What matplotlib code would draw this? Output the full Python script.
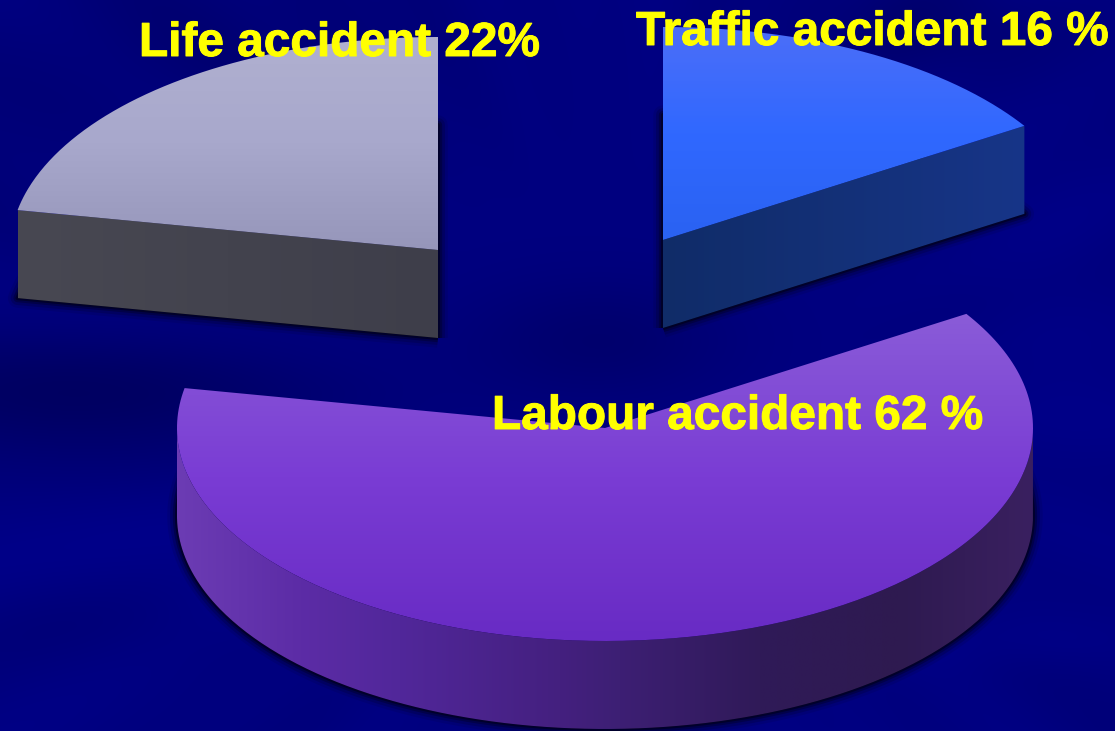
import numpy as np
import matplotlib
matplotlib.use("Agg")
import matplotlib.pyplot as plt
import matplotlib.patheffects as pe
from matplotlib.patches import PathPatch
from matplotlib.path import Path

# ---- data ----
names = ["Traffic accident 16 %", "Labour accident 62 %", "Life accident 22%"]
shares = [16, 62, 22]

# ---- style / layout ----
centers = [(663, 240), (605, 428), (438, 250)]
label_pos = [(636, 45), (492, 429), (139, 56)]
RX, RY, DEPTH = 428, 213, 88
top_cols = [["#4c6ef8", "#3068ff", "#2a62f2"],
            ["#8a5cd8", "#7a3cd4", "#682bc4"],
            ["#b0b0d0", "#a8a8cc", "#9696ba"]]
cut_cols = [["#102c68", "#173588"], None, ["#484852", "#3e3e4a"]]
rim_x = [177, 300, 400, 560, 620, 760, 900, 1032]
rim_cols = ["#6c3cb4", "#5c2ca6", "#51279a", "#44207f", "#3d1f74", "#301a58", "#2e1a50", "#3a2060"]

W, H = 1115, 731
fig = plt.figure(figsize=(W / 100, H / 100), dpi=100)
ax = fig.add_axes([0, 0, 1, 1])
ax.axis("off")


def rgb(c):
    return np.array(matplotlib.colors.to_rgb(c))


def ramp(cols, n=200):
    t = np.linspace(0, 1, n)
    st = np.linspace(0, 1, len(cols))
    arr = np.array([rgb(c) for c in cols])
    return np.stack([np.interp(t, st, arr[:, i]) for i in range(3)], axis=-1)


def ell(c, deg, dy=0):
    r = np.radians(deg)
    return np.column_stack([c[0] + RX * np.cos(r), c[1] - RY * np.sin(r) + dy])


def wedge_poly(c, a0, a1, dy=0):
    return np.vstack([[c[0], c[1] + dy], ell(c, np.linspace(a0, a1, 200), dy), [c[0], c[1] + dy]])


def filled(poly, img, extent, z):
    patch = PathPatch(Path(poly), fc="none", ec="none", transform=ax.transData)
    ax.add_patch(patch)
    im = ax.imshow(img, extent=extent, aspect="auto", interpolation="bilinear", zorder=z)
    im.set_clip_path(patch)


# background: dark blue with soft rays
yy, xx = np.mgrid[0:H, 0:W]
ang = np.arctan2(yy - 400.0, xx - 620.0)
rad = np.hypot(xx - 620.0, yy - 400.0) / 700
blue = 128 + (3 * np.sin(7 * ang + 0.6) + 2.5 * np.sin(17 * ang + 2) + 2 * np.sin(29 * ang)) * np.clip(rad - 0.3, 0, 1) * 2
for gx, gy, sx, sy, amp in [(90, 400, 260, 70, -26), (120, 60, 300, 120, -14), (950, 30, 130, 60, -18),
                            (600, 340, 130, 60, -18), (1000, 640, 160, 30, 8), (60, 620, 200, 50, -6),
                            (1060, 300, 90, 200, 6), (300, 560, 200, 60, 10)]:
    blue += amp * np.exp(-((xx - gx) / sx) ** 2 - ((yy - gy) / sy) ** 2)
bg = np.zeros((H, W, 3))
bg[..., 2] = np.clip(blue, 60, 170) / 255
ax.imshow(bg, extent=(0, W, H, 0), aspect="auto", zorder=0)

# slices
ang0 = 90.0
for i, (share, c) in enumerate(zip(shares, centers)):
    sweep = share / sum(shares) * 360
    a0, a1 = ang0, ang0 - sweep
    ang0 = a1
    # soft shadow from the footprint
    foot = wedge_poly(c, a0, a1, DEPTH)
    for lw, al in [(14, 0.08), (10, 0.15), (6, 0.25), (3, 0.4)]:
        ax.add_patch(PathPatch(Path(foot), fc="black", ec="black", lw=lw, alpha=al, zorder=1 + i * 0.01, joinstyle="round"))

    # visible side
    if cut_cols[i] is not None:
        # straight cut face from apex to the rim end that faces the viewer
        end = a1 if i == 0 else a0
        e = ell(c, np.array([end]))[0]
        if i == 0:
            pts = [c, e, e + [0, DEPTH], np.array(c) + [0, DEPTH]]
        else:
            pts = [e, c, np.array(c) + [0, DEPTH], e + [0, DEPTH]]
        poly = np.array(pts, float)
        x0, x1 = poly[:, 0].min(), poly[:, 0].max()
        y0, y1 = poly[:, 1].min(), poly[:, 1].max()
        img = ramp(cut_cols[i])[None, :, :]
        filled(poly, img, (x0, x1, y1, y0), 2)
    else:
        arc = np.linspace(180, 360, 300)
        poly = np.vstack([ell(c, arc), ell(c, arc[::-1], DEPTH)])
        xs = np.linspace(c[0] - RX, c[0] + RX, 600)
        arr = np.array([rgb(k) for k in rim_cols])
        img = np.stack([np.interp(xs, rim_x, arr[:, j]) for j in range(3)], axis=-1)[None, :, :]
        filled(poly, img, (xs[0], xs[-1], c[1] + RY + DEPTH, c[1]), 2)

    # top face
    poly = wedge_poly(c, a0, a1)
    y0, y1 = poly[:, 1].min(), poly[:, 1].max()
    img = ramp(top_cols[i])[:, None, :]
    filled(poly, img, (c[0] - RX, c[0] + RX, y1, y0), 3)

for name, (x, y) in zip(names, label_pos):
    ax.text(x, y, name, color="#ffff00", fontsize=34.4, fontweight="bold",
            family="Liberation Sans", ha="left", va="baseline", zorder=5,
            path_effects=[pe.withStroke(linewidth=0.7, foreground="#ffff00")])

ax.set_xlim(0, W)
ax.set_ylim(H, 0)
fig.savefig("out.png", dpi=100)
